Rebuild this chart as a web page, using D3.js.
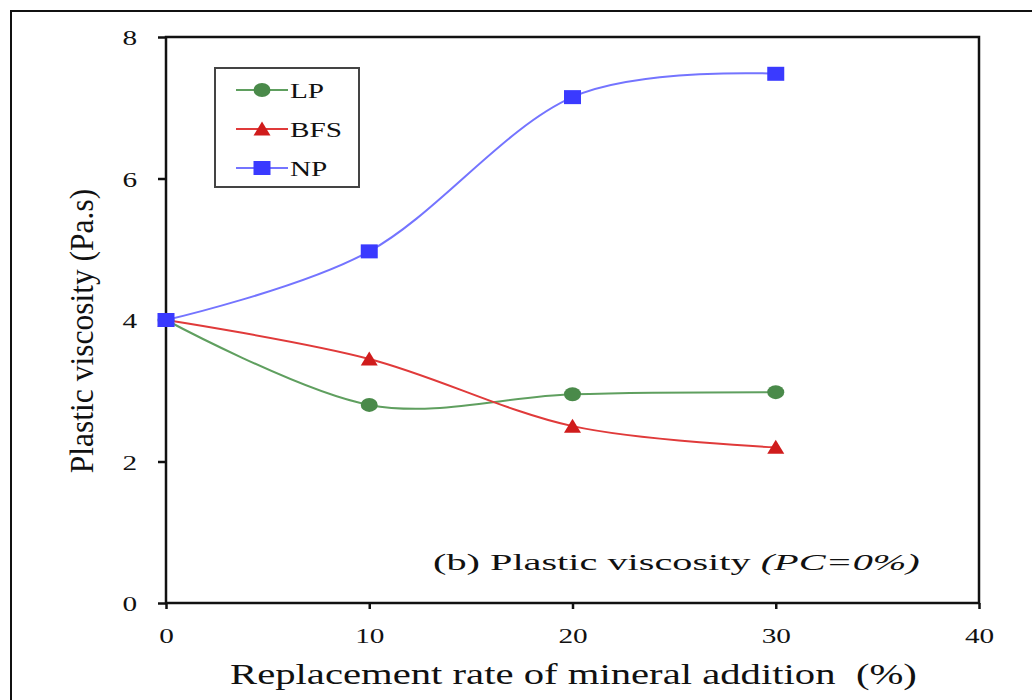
<!DOCTYPE html>
<html>
<head>
<meta charset="utf-8">
<script src="https://cdn.jsdelivr.net/npm/d3@7"></script>
<style>
  body { margin: 0; background: white; }
  svg { display: block; }
  text { font-family: "Liberation Serif", "DejaVu Serif", serif; fill: #111; }
</style>
</head>
<body>
<div id="chart"></div>
<script>
var xValues = [0, 10, 20, 30];
var lpValues = [4.0, 2.8, 2.95, 2.98];
var bfsValues = [4.0, 3.45, 2.5, 2.2];
var npValues = [4.0, 4.97, 7.15, 7.48];
var xTicks = [0, 10, 20, 30, 40];
var yTicks = [0, 2, 4, 6, 8];
var seriesNames = ["LP", "BFS", "NP"];

var width = 1032, height = 700;
var plotLeft = 166, plotRight = 979, plotTop = 37, plotBottom = 603;
var stretch = 1.33; // the picture is stretched sideways

var series = [
  { name: seriesNames[0], values: lpValues, line: "#5f9f5f", fill: "#4a8a4a", shape: "circle" },
  { name: seriesNames[1], values: bfsValues, line: "#e03a3a", fill: "#d01c1c", shape: "triangle" },
  { name: seriesNames[2], values: npValues, line: "#7474ff", fill: "#3a3aff", shape: "square" }
];

var svg = d3.select("#chart").append("svg")
  .attr("width", width).attr("height", height);

// outer frame of the figure
svg.append("rect").attr("x", 11).attr("y", 11).attr("width", 1040).attr("height", 720)
  .attr("fill", "none").attr("stroke", "#111").attr("stroke-width", 2);

var x = d3.scaleLinear().domain([0, 40]).range([plotLeft, plotRight]);
var y = d3.scaleLinear().domain([0, 8]).range([plotBottom, plotTop]);

// plot area box
svg.append("rect").attr("x", plotLeft).attr("y", plotTop)
  .attr("width", plotRight - plotLeft).attr("height", plotBottom - plotTop)
  .attr("fill", "none").attr("stroke", "#111").attr("stroke-width", 2.5);

var yAxis = svg.append("g").attr("transform", "translate(" + plotLeft + ",0)")
  .call(d3.axisLeft(y).tickValues(yTicks).tickSize(8).tickFormat(d3.format("d")));
yAxis.select(".domain").remove();
yAxis.selectAll("line").attr("stroke", "#111").attr("stroke-width", 2.5);
yAxis.selectAll("text").style("font-size", "22px")
  .attr("x", -29 / stretch).attr("dy", "0.35em")
  .attr("transform", "scale(" + stretch + ",1)");

var xAxis = svg.append("g").attr("transform", "translate(0," + plotBottom + ")")
  .call(d3.axisBottom(x).tickValues(xTicks).tickSize(6).tickFormat(d3.format("d")));
xAxis.select(".domain").remove();
xAxis.selectAll("line").attr("stroke", "#111").attr("stroke-width", 2.5);
xAxis.selectAll("text").style("font-size", "22px")
  .attr("y", 40).attr("dy", 0)
  .attr("transform", "scale(" + stretch + ",1)");

// squeeze or widen a text so it spans the given width from (x0, y0)
function fitText(sel, x0, y0, w) {
  var natural = sel.node().getComputedTextLength();
  sel.attr("transform", "translate(" + x0 + "," + y0 + ") scale(" + (w / natural) + ",1)");
}

// axis titles
svg.append("text")
  .attr("transform", "translate(93,331) rotate(-90) scale(1,1.1)")
  .attr("text-anchor", "middle")
  .style("font-size", "31.5px")
  .text("Plastic viscosity (Pa.s)");

var xTitle = svg.append("text")
  .style("font-size", "29px")
  .text("Replacement rate of mineral addition\u00a0 (%)");
fitText(xTitle, 230, 684, 687);

// annotation
var note = svg.append("text").style("font-size", "23px");
note.append("tspan").text("(b) Plastic viscosity ");
note.append("tspan").style("font-style", "italic").text("(PC=0%)");
fitText(note, 433, 570, 487);

var line = d3.line()
  .x(function (d, i) { return x(xValues[i]); })
  .y(function (d) { return y(d); })
  .curve(d3.curveCardinal.tension(0));

function drawMarker(g, shape, fill, cx, cy) {
  if (shape === "circle") {
    g.append("ellipse").attr("cx", cx).attr("cy", cy).attr("rx", 8.5).attr("ry", 7).attr("fill", fill);
  } else if (shape === "triangle") {
    g.append("path").attr("d", "M0,-7.5L8.5,6.5L-8.5,6.5Z")
      .attr("transform", "translate(" + cx + "," + cy + ")").attr("fill", fill);
  } else {
    g.append("rect").attr("x", cx - 8.5).attr("y", cy - 7).attr("width", 17).attr("height", 14).attr("fill", fill);
  }
}

series.forEach(function (s) {
  svg.append("path").datum(s.values)
    .attr("d", line).attr("fill", "none")
    .attr("stroke", s.line).attr("stroke-width", 2);
});

series.forEach(function (s) {
  var g = svg.append("g");
  s.values.forEach(function (v, i) { drawMarker(g, s.shape, s.fill, x(xValues[i]), y(v)); });
});

// legend
var legend = svg.append("g");
legend.append("rect").attr("x", 215).attr("y", 68).attr("width", 144).attr("height", 119)
  .attr("fill", "white").attr("stroke", "#444").attr("stroke-width", 2);
series.forEach(function (s, i) {
  var ry = 90 + i * 39;
  legend.append("line").attr("x1", 236).attr("x2", 288).attr("y1", ry).attr("y2", ry)
    .attr("stroke", s.line).attr("stroke-width", 2);
  drawMarker(legend, s.shape, s.fill, 262, ry);
  legend.append("text")
    .attr("transform", "translate(290," + (ry + 8) + ") scale(" + stretch + ",1)")
    .style("font-size", "22px").text(s.name);
});
</script>
</body>
</html>
